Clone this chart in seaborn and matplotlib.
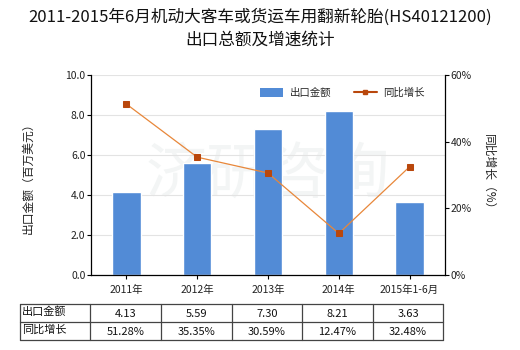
import matplotlib
matplotlib.use("Agg")
import matplotlib.pyplot as plt
import seaborn as sns
import pandas as pd
from matplotlib.lines import Line2D
from matplotlib.patches import Patch

categories = ["2011年", "2012年", "2013年", "2014年", "2015年1-6月"]
export_value = [4.13, 5.59, 7.30, 8.21, 3.63]
growth_pct = [51.28, 35.35, 30.59, 12.47, 32.48]
value_labels = ["4.13", "5.59", "7.30", "8.21", "3.63"]
growth_labels = ["51.28%", "35.35%", "30.59%", "12.47%", "32.48%"]
left_ticks = [0, 2, 4, 6, 8, 10]
right_ticks = [0, 20, 40, 60]

sns.set_theme(style="white")
plt.rcParams['font.family'] = ['Noto Sans CJK SC', 'DejaVu Sans']
plt.rcParams['axes.unicode_minus'] = False

W, H = 520, 350
fig = plt.figure(figsize=(W / 100, H / 100), dpi=100)

def fx(px):
    return px / W

def fy(py):
    return 1 - py / H

ax_l, ax_r, ax_t, ax_b = 91, 445, 75, 275
ax = fig.add_axes([fx(ax_l), fy(ax_b), fx(ax_r - ax_l), (ax_b - ax_t) / H])

bar_color = "#528bd6"
line_color = "#e8873a"
marker_color = "#b9470c"

df = pd.DataFrame({"cat": categories, "val": export_value, "g": growth_pct})

# watermark
ax.text(0.5, 0.5, "济研咨询", transform=ax.transAxes, fontsize=44, color="#f3f5f5",
        ha="center", va="center", zorder=0)

sns.barplot(data=df, x="cat", y="val", color=bar_color, width=0.4, ax=ax,
            saturation=1, zorder=2)
ax.set_ylim(0, 10)
ax.set_xlim(-0.5, len(categories) - 0.5)
ax.set_yticks(left_ticks)
ax.set_yticklabels([f"{t:.1f}" for t in left_ticks], fontsize=7.5, color="#222222")
ax.yaxis.grid(True, color="#e3e3e3", linewidth=0.8)
ax.set_axisbelow(True)
ax.tick_params(axis="y", length=3, width=0.8, color="black", pad=1, left=True)
ax.tick_params(axis="x", length=3, width=0.8, color="black", pad=4, bottom=True,
               labelsize=7.5, labelcolor="#222222")
ax.set_xlabel("")
ax.set_ylabel("出口金额（百万美元）", fontsize=8.5, color="#222222", labelpad=22)
for s in ["top", "right"]:
    ax.spines[s].set_visible(False)
for s in ["left", "bottom"]:
    ax.spines[s].set_color("black")
    ax.spines[s].set_linewidth(0.9)

ax2 = ax.twinx()
sns.lineplot(x=list(range(len(categories))), y=growth_pct, ax=ax2, color=line_color,
             linewidth=0.9, marker="s", markersize=4.5, markerfacecolor=marker_color,
             markeredgecolor=marker_color, zorder=5)
ax2.set_ylim(0, 60)
ax2.set_yticks(right_ticks)
ax2.set_yticklabels([f"{t}%" for t in right_ticks], fontsize=7.5, color="#222222")
ax2.tick_params(axis="y", length=3, width=0.8, color="black", pad=1, right=True)
ax2.set_ylabel("同比增长（%）", fontsize=8.5, color="#222222", rotation=-90, labelpad=17)
for s in ["top", "left", "bottom"]:
    ax2.spines[s].set_visible(False)
ax2.spines["right"].set_color("black")
ax2.spines["right"].set_linewidth(0.9)
ax2.grid(False)

handles = [Patch(facecolor=bar_color, edgecolor="none"),
           Line2D([0], [0], color="#b9470c", linewidth=1.5, marker="s", markersize=3,
                  markerfacecolor="#b9470c")]
ax.legend(handles, ["出口金额", "同比增长"], loc="center", bbox_to_anchor=(0.71, 0.91),
          ncol=2, frameon=False, fontsize=7.5, handlelength=2.2, handleheight=0.9,
          columnspacing=2.2, handletextpad=0.6)

# title
fig.text(0.5, fy(17), "2011-2015年6月机动大客车或货运车用翻新轮胎(HS40121200)",
         ha="center", va="center", fontsize=12, color="#111111")
fig.text(0.5, fy(40), "出口总额及增速统计", ha="center", va="center",
         fontsize=12, color="#111111")

# table
col_edges = [20, 90, 161, 232, 302, 373, 443]
row_edges = [304, 322, 340]
tcol = "#444444"
for x in col_edges:
    fig.add_artist(Line2D([fx(x), fx(x)], [fy(row_edges[0]), fy(row_edges[-1])],
                          color=tcol, linewidth=0.9))
for y in row_edges:
    fig.add_artist(Line2D([fx(col_edges[0]), fx(col_edges[-1])], [fy(y), fy(y)],
                          color=tcol, linewidth=0.9))
row_names = ["出口金额", "同比增长"]
rows = [value_labels, growth_labels]
for r in range(2):
    yc = (row_edges[r] + row_edges[r + 1]) / 2
    fig.text(fx(col_edges[0] + 2), fy(yc - 1), row_names[r], ha="left", va="center",
             fontsize=8, color="#111111")
    for c, txt in enumerate(rows[r]):
        xc = (col_edges[c + 1] + col_edges[c + 2]) / 2
        fig.text(fx(xc), fy(yc + 1), txt, ha="center", va="center", fontsize=8,
                 color="#111111")

fig.savefig("out.png", dpi=100)
